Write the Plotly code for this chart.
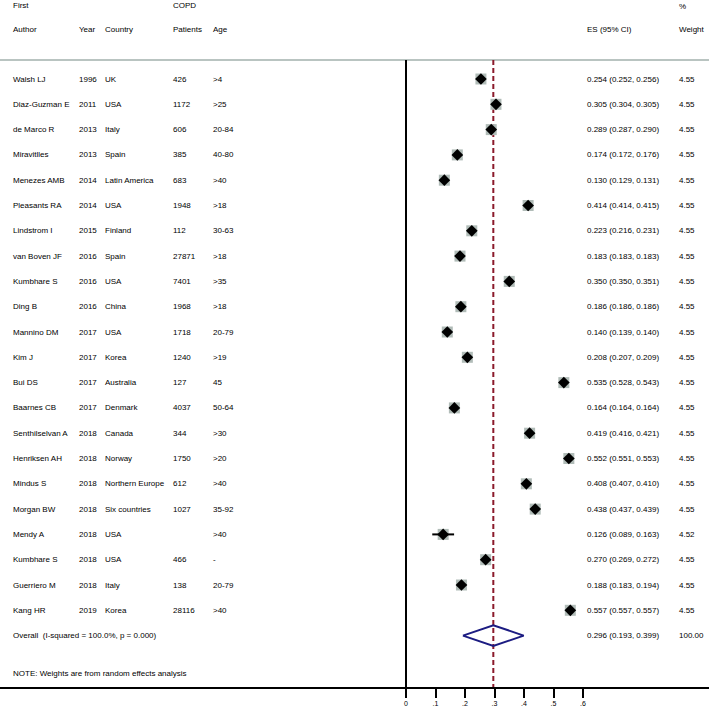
import plotly.graph_objects as go

# study data
authors = ["Walsh LJ", "Diaz-Guzman E", "de Marco R", "Miravitlles", "Menezes AMB",
           "Pleasants RA", "Lindstrom I", "van Boven JF", "Kumbhare S", "Ding B",
           "Mannino DM", "Kim J", "Bui DS", "Baarnes CB", "Senthilselvan A",
           "Henriksen AH", "Mindus S", "Morgan BW", "Mendy A", "Kumbhare S",
           "Guerriero M", "Kang HR"]
years = [1996, 2011, 2013, 2013, 2014, 2014, 2015, 2016, 2016, 2016, 2017, 2017,
         2017, 2017, 2018, 2018, 2018, 2018, 2018, 2018, 2018, 2019]
countries = ["UK", "USA", "Italy", "Spain", "Latin America", "USA", "Finland", "Spain",
             "USA", "China", "USA", "Korea", "Australia", "Denmark", "Canada", "Norway",
             "Northern Europe", "Six countries", "USA", "USA", "Italy", "Korea"]
patients = ["426", "1172", "606", "385", "683", "1948", "112", "27871", "7401", "1968",
            "1718", "1240", "127", "4037", "344", "1750", "612", "1027", "", "466",
            "138", "28116"]
ages = [">4", ">25", "20-84", "40-80", ">40", ">18", "30-63", ">18", ">35", ">18",
        "20-79", ">19", "45", "50-64", ">30", ">20", ">40", "35-92", ">40", "-",
        "20-79", ">40"]
es = [0.254, 0.305, 0.289, 0.174, 0.130, 0.414, 0.223, 0.183, 0.350, 0.186, 0.140,
      0.208, 0.535, 0.164, 0.419, 0.552, 0.408, 0.438, 0.126, 0.270, 0.188, 0.557]
lo = [0.252, 0.304, 0.287, 0.172, 0.129, 0.414, 0.216, 0.183, 0.350, 0.186, 0.139,
      0.207, 0.528, 0.164, 0.416, 0.551, 0.407, 0.437, 0.089, 0.269, 0.183, 0.557]
hi = [0.256, 0.305, 0.290, 0.176, 0.131, 0.415, 0.231, 0.183, 0.351, 0.186, 0.140,
      0.209, 0.543, 0.164, 0.421, 0.553, 0.410, 0.439, 0.163, 0.272, 0.194, 0.557]
weights = [4.55] * 18 + [4.52] + [4.55] * 3
overall_es, overall_lo, overall_hi = 0.296, 0.193, 0.399
tick_vals = [0, 0.1, 0.2, 0.3, 0.4, 0.5, 0.6]
tick_text = ["0", ".1", ".2", ".3", ".4", ".5", ".6"]

n = len(authors)
rows = list(range(n))
overall_row = n
FONT = "Liberation Sans, Arial, sans-serif"

fig = go.Figure()

# reference line first so the markers sit on top
fig.add_shape(type="line", xref="paper", x0=0, x1=1, y0=-0.75, y1=-0.75,
              line=dict(color="#b9c4c1", width=2), layer="below")
fig.add_shape(type="line", x0=0, x1=0, y0=-0.75, y1=24.03,
              line=dict(color="black", width=2))
fig.add_shape(type="line", x0=overall_es, x1=overall_es, y0=-0.75, y1=24.03,
              line=dict(color="#8b1a2b", width=2, dash="5px,3px"), layer="below")

# grey boxes + black diamonds
fig.add_trace(go.Scatter(x=es, y=rows, mode="markers",
                         marker=dict(symbol="square", size=11, color="#b1bcb8"),
                         hoverinfo="skip"))
ci_x, ci_y = [], []
for i in rows:
    ci_x += [lo[i], hi[i], None]
    ci_y += [i, i, None]
fig.add_trace(go.Scatter(x=ci_x, y=ci_y, mode="lines",
                         line=dict(color="black", width=2), hoverinfo="skip"))
fig.add_trace(go.Scatter(x=es, y=rows, mode="markers",
                         marker=dict(symbol="diamond", size=9, color="black"),
                         hoverinfo="skip"))

# overall diamond
h = 0.41
fig.add_trace(go.Scatter(
    x=[overall_lo, overall_es, overall_hi, overall_es, overall_lo],
    y=[overall_row, overall_row - h, overall_row, overall_row + h, overall_row],
    mode="lines", line=dict(color="#1c1c82", width=2), hoverinfo="skip"))

cols = [11, 77, 103, 171, 211]   # pixel x of text columns
es_px, w_px = 585, 677
W = 709


def txt(px, y, s):
    fig.add_annotation(x=px / W, xref="paper", y=y, yref="y", text=s,
                       showarrow=False, xanchor="left", yanchor="middle",
                       font=dict(family=FONT, size=8, color="black"))


# headers
txt(cols[0], -2.9, "First")
txt(cols[3], -2.9, "COPD")
txt(w_px, -2.85, "%")
for px, s in zip(cols, ["Author", "Year", "Country", "Patients", "Age"]):
    txt(px, -1.94, s)
txt(es_px, -1.94, "ES (95% CI)")
txt(w_px, -1.94, "Weight")

for i in rows:
    for px, s in zip(cols, [authors[i], str(years[i]), countries[i], patients[i], ages[i]]):
        if s:
            txt(px, i, s)
    txt(es_px, i, f"{es[i]:.3f} ({lo[i]:.3f}, {hi[i]:.3f})")
    txt(w_px, i, f"{weights[i]:.2f}")

txt(cols[0], overall_row, "Overall  (I-squared = 100.0%, p = 0.000)")
txt(es_px, overall_row, f"{overall_es:.3f} ({overall_lo:.3f}, {overall_hi:.3f})")
txt(w_px, overall_row, "100.00")
txt(cols[0], 23.48, "NOTE: Weights are from random effects analysis")

fig.update_layout(
    width=709, height=709, margin=dict(l=0, r=0, t=0, b=22),
    plot_bgcolor="white", paper_bgcolor="white", showlegend=False,
    xaxis=dict(range=[-406 / 295, (709 - 406) / 295], showgrid=False, zeroline=False,
               showline=True, linecolor="black", linewidth=2, ticks="outside",
               ticklen=9, tickwidth=2, tickcolor="black", tickvals=tick_vals,
               ticktext=tick_text, tickfont=dict(family=FONT, size=7, color="black"),
               fixedrange=True),
    yaxis=dict(range=[(687 - 79) / 25.3, -79 / 25.3], showgrid=False, zeroline=False,
               showticklabels=False, fixedrange=True),
)

# drop the default page margin so the 709px figure fills the window
fig.write_html("out.html", config={"displayModeBar": False},
               post_script="document.body.style.margin='0';document.body.style.overflow='hidden';")
